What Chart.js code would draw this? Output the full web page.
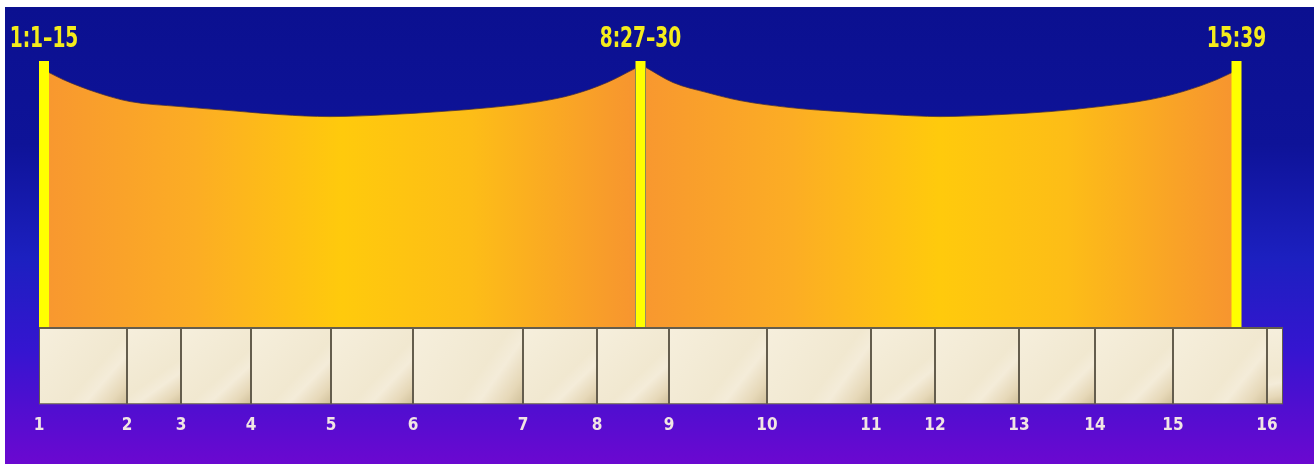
<!DOCTYPE html>
<html>
<head>
<meta charset="utf-8">
<script src="https://cdn.jsdelivr.net/npm/chart.js@4.4.1/dist/chart.umd.min.js"></script>
<style>
  html, body { margin: 0; padding: 0; background: #fff; }
  #wrap { position: absolute; left: 5px; top: 7px; width: 1309px; height: 457px; }
</style>
</head>
<body>
<div id="wrap"><canvas id="chart"></canvas></div>
<script>
// Mark 1-16, chapter lengths in relative units
const chapterLabels = ['1', '2', '3', '4', '5', '6', '7', '8', '9', '10', '11', '12', '13', '14', '15', '16'];
const chapterLengths = [44, 27, 35, 40, 41, 55, 37, 36, 49, 52, 32, 42, 38, 39, 47, 8];

// the three yellow markers
const markerLabels = ['1:1–15', '8:27–30', '15:39'];
const markerPositions = [2.5, 300.75, 598.75];
const markerHeight = 265.5;

// top edge of the two orange arches
const arch1X = [5, 12, 29, 45.5, 70.5, 95.5, 120.5, 145.5, 175.5, 200.5, 225.5, 250.5, 267, 284, 298];
const arch1Y = [254, 247, 234, 225, 220, 216, 212, 210, 212, 215, 219, 225, 232, 244, 258];
const arch2X = [303.5, 317, 334, 350.5, 375.5, 400.5, 425.5, 450.5, 480.5, 505.5, 530.5, 555.5, 572, 589, 596.5];
const arch2Y = [259, 244, 234, 226, 219, 215, 212, 210, 212, 215, 220, 227, 235, 247, 254];

const boxTop = -1, boxBottom = -77;

const chapterStarts = [];
let acc = 0;
chapterLengths.forEach(l => { chapterStarts.push(acc); acc += l; });
const totalLength = acc;

function archFill(x0, x1) {
    return function (c) {
        const chart = c.chart;
        if (!chart.chartArea) return '#fbb022';
        const xs = chart.scales.x;
        const a = xs.getPixelForValue(x0), b = xs.getPixelForValue(x1);
        const g = chart.ctx.createLinearGradient(a, 0, b, 0);
        g.addColorStop(0, '#f8982f');
        g.addColorStop(0.25, '#fcad24');
        g.addColorStop(0.5, '#ffca0c');
        g.addColorStop(0.72, '#fdbd17');
        g.addColorStop(1, '#f7952f');
        return g;
    };
}

function boxFill(s, e) {
    return function (c) {
        const chart = c.chart;
        if (!chart.chartArea) return '#f4ebd5';
        const xs = chart.scales.x, ys = chart.scales.y;
        const a = xs.getPixelForValue(s), b = xs.getPixelForValue(e);
        const t = ys.getPixelForValue(boxTop), u = ys.getPixelForValue(boxBottom);
        const g = chart.ctx.createLinearGradient(a, t, b, u);
        g.addColorStop(0, '#f6efdd');
        g.addColorStop(0.6, '#f1e8d0');
        g.addColorStop(0.72, '#f4ecd9');
        g.addColorStop(0.88, '#e6d8b8');
        g.addColorStop(1, '#cfbf98');
        return g;
    };
}

const datasets = [];

markerPositions.forEach(p => {
    datasets.push({
        data: [{x: p, y: 0}, {x: p, y: markerHeight}],
        showLine: true, borderColor: '#ffff00', borderWidth: 10, borderCapStyle: 'butt',
        pointRadius: 0, fill: false, order: 0
    });
});

[[arch1X, arch1Y], [arch2X, arch2Y]].forEach(([xs, ys]) => {
    datasets.push({
        data: xs.map((x, i) => ({x: x, y: ys[i]})),
        showLine: true, cubicInterpolationMode: 'monotone',
        borderColor: 'rgba(70,45,60,0.75)', borderWidth: 1,
        backgroundColor: archFill(xs[0], xs[xs.length - 1]),
        fill: 'origin', pointRadius: 0, order: 1
    });
});

chapterLengths.forEach((len, i) => {
    const s = chapterStarts[i], e = s + len;
    datasets.push({
        data: [{x: s, y: boxTop}, {x: s, y: boxBottom}, {x: e, y: boxBottom}, {x: e, y: boxTop}, {x: s, y: boxTop}],
        showLine: true, tension: 0, fill: 'shape',
        backgroundColor: boxFill(s, e),
        borderColor: '#645d4d', borderWidth: 2, pointRadius: 0, order: 2
    });
});

const backdrop = {
    id: 'backdrop',
    beforeDraw(chart) {
        const {ctx, width, height} = chart;
        const g = ctx.createLinearGradient(0, 0, 0, height);
        g.addColorStop(0, '#0b1090');
        g.addColorStop(0.3, '#0e1398');
        g.addColorStop(0.55, '#1c20c0');
        g.addColorStop(0.75, '#3515d0');
        g.addColorStop(1, '#6b08d0');
        ctx.save();
        ctx.fillStyle = g;
        ctx.fillRect(0, 0, width, height);
        ctx.restore();
    }
};

// verse references above the markers, squeezed to a narrow face
const markerText = {
    id: 'markerText',
    afterDatasetsDraw(chart) {
        const {ctx, scales: {x, y}} = chart;
        ctx.save();
        ctx.font = "bold 28px 'DejaVu Sans Condensed', 'DejaVu Sans', sans-serif";
        ctx.fillStyle = '#f4ec1c';
        ctx.textAlign = 'center';
        ctx.textBaseline = 'middle';
        markerLabels.forEach((t, i) => {
            const px = x.getPixelForValue(markerPositions[i]);
            const py = y.getPixelForValue(markerHeight) - 21;
            ctx.save();
            ctx.translate(px, py);
            ctx.scale(0.74, 1);
            ctx.fillText(t, 0, 0);
            ctx.restore();
        });
        ctx.restore();
    }
};

const ctx = document.getElementById('chart').getContext('2d');
new Chart(ctx, {
    type: 'scatter',
    data: {datasets: datasets},
    options: {
        responsive: true,
        maintainAspectRatio: false,
        animation: false,
        layout: {padding: {left: 34, right: 31, top: 54, bottom: 17.4}},
        plugins: {legend: {display: false}, tooltip: {enabled: false}},
        scales: {
            x: {
                type: 'linear', position: 'bottom', min: 0, max: totalLength,
                grid: {display: false, drawTicks: false}, border: {display: false},
                afterBuildTicks: axis => { axis.ticks = chapterStarts.map(v => ({value: v})); },
                ticks: {
                    autoSkip: false, maxRotation: 0, padding: 11, color: '#f1e5e4',
                    font: {family: "'Liberation Sans Narrow', 'DejaVu Sans Condensed', sans-serif", size: 17, weight: 'bold'},
                    callback: (v, i) => chapterLabels[i]
                }
            },
            y: {display: false, min: boxBottom, max: markerHeight}
        }
    },
    plugins: [backdrop, markerText]
});
</script>
</body>
</html>
